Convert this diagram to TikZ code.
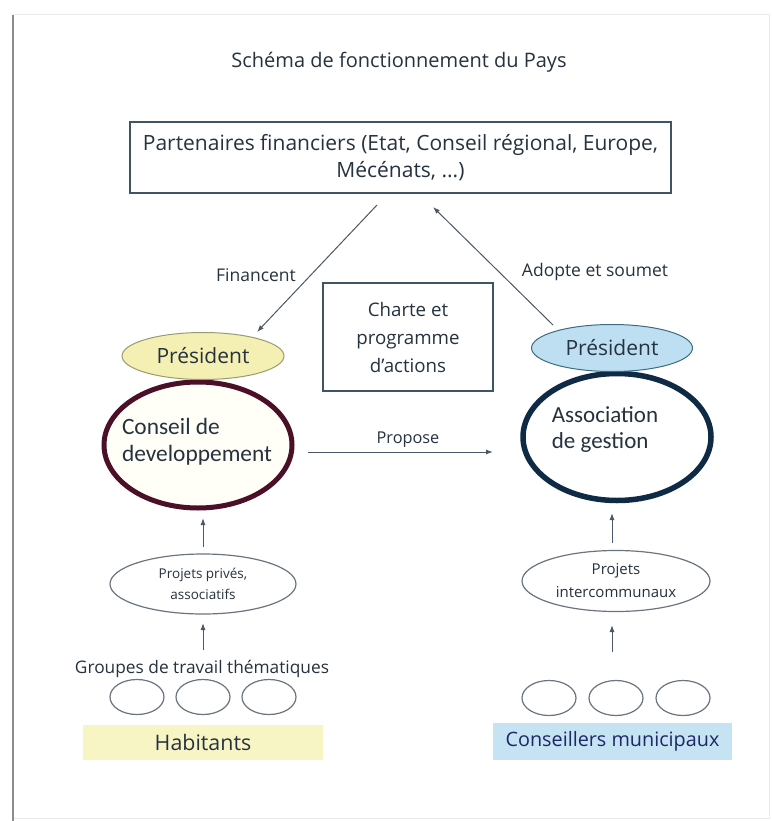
\documentclass[tikz,border=0pt]{standalone}
\usepackage{fontspec}
\setmainfont{Open Sans}
\newfontfamily\calib{Carlito}
\usetikzlibrary{shapes.geometric,arrows.meta}
\definecolor{ink}{HTML}{26323F}
\definecolor{boxline}{HTML}{3F5566}
\definecolor{arrowcol}{HTML}{4A5868}
\definecolor{smallline}{HTML}{6A7580}
\definecolor{presLfill}{HTML}{F4F0B4}
\definecolor{presLline}{HTML}{9A9A70}
\definecolor{presRfill}{HTML}{BEDFF1}
\definecolor{presRline}{HTML}{3A6C80}
\definecolor{bigL}{HTML}{4B0F28}
\definecolor{bigR}{HTML}{0F2A44}
\definecolor{habfill}{HTML}{F8F5C4}
\definecolor{consfill}{HTML}{C5E3F3}
\tikzset{
  txt/.style={inner sep=0pt, text=ink},
  framebox/.style={draw=boxline, line width=1.3pt, inner sep=0pt, text=ink},
  ovalnode/.style={ellipse, inner sep=0pt},
  conn/.style={draw=arrowcol, line width=1pt, -{Latex[length=7pt,width=5pt]}},
  smallov/.style={ellipse, draw=smallline, line width=1.2pt, minimum width=54pt, minimum height=35pt, inner sep=0pt},
  bandbox/.style={inner sep=0pt, text=ink}
}
\begin{document}
\begin{tikzpicture}[x=1pt,y=-1pt]
\useasboundingbox (0,0) rectangle (771,821);
\fill[white] (0,0) rectangle (771,821);
% page frame
\draw[draw=black!8, line width=1pt] (13,15) rectangle (769,818);
\draw[draw=black!45, line width=2pt] (13,15) -- (13,821);

% title
\node[txt, font=\fontsize{20}{24}\selectfont] (title) at (399,62) {Schéma de fonctionnement du Pays};

% partners box
\node[framebox, minimum width=541pt, minimum height=71pt, align=center,
      font=\fontsize{21}{27}\selectfont] (partners) at (400.5,157.5)
  {Partenaires financiers (Etat, Conseil régional, Europe,\\Mécénats, ...)};

% charte box
\node[framebox, minimum width=170pt, minimum height=108pt, align=center,
      font=\fontsize{18.7}{28}\selectfont] (charte) at (408,337)
  {Charte et\\programme\\d'actions};

% left side
\node[ovalnode, draw=bigL, line width=5pt, fill=yellow!3, minimum width=188pt, minimum height=126pt] (cdev) at (198,445) {};
\node[txt, align=left, font=\calib\fontsize{23.4}{27}\selectfont] (cdevtxt) at (197,442) {Conseil de\\developpement};
\node[ovalnode, draw=presLline, line width=1pt, fill=presLfill, minimum width=162pt, minimum height=47pt, font=\fontsize{21}{24}\selectfont, text=ink] (presL) at (203,356) {Président};

% right side
\node[ovalnode, draw=bigR, line width=5.5pt, fill=white, minimum width=188pt, minimum height=127pt] (assoc) at (617,437) {};
\node[txt, align=left, font=\calib\fontsize{23}{26}\selectfont] (assoctxt) at (605,430) {Association\\de gestion};
\node[ovalnode, draw=presRline, line width=1pt, fill=presRfill, minimum width=161pt, minimum height=47pt, font=\fontsize{21}{24}\selectfont, text=ink] (presR) at (612,348) {Président};

% projets
\node[ovalnode, draw=smallline, line width=1.2pt, minimum width=186pt, minimum height=60pt, align=center, font=\fontsize{13.5}{21}\selectfont, text=ink] (projL) at (203,584) {Projets privés,\\associatifs};
\node[ovalnode, draw=smallline, line width=1.2pt, minimum width=188pt, minimum height=61pt, align=center, font=\fontsize{15}{23}\selectfont, text=ink] (projR) at (616,581) {Projets\\intercommunaux};

% groups label
\node[txt, font=\fontsize{17.3}{20}\selectfont] (groupes) at (202,669) {Groupes de travail thématiques};

% small ellipses
\node[smallov] (gL1) at (137,697) {};
\node[smallov] (gL2) at (203,697) {};
\node[smallov] (gL3) at (269,697) {};
\node[smallov] (gR1) at (549,698) {};
\node[smallov] (gR2) at (616,698) {};
\node[smallov] (gR3) at (683,698) {};

% bands
\node[bandbox, fill=habfill, minimum width=240pt, minimum height=35pt, font=\fontsize{21.4}{24}\selectfont] (hab) at (203,742.5) {Habitants};
\node[bandbox, fill=consfill, minimum width=239pt, minimum height=37pt, font=\fontsize{19.8}{22}\selectfont, text=ink!80!blue] (cons) at (612.5,741.5) {Conseillers municipaux};

% connector end points
\coordinate (finA) at (377,205);
\coordinate (finB) at (257,332);
\coordinate (adoA) at (553,325);
\coordinate (adoB) at (433,207);
\coordinate (propA) at (308,452);
\coordinate (propB) at (493,452);
\coordinate (upLa) at (203,547);
\coordinate (upLb) at (203,518);
\coordinate (upRa) at (612,543);
\coordinate (upRb) at (612,513);
\coordinate (upLc) at (203,650);
\coordinate (upLd) at (203,623);
\coordinate (upRc) at (612,652);
\coordinate (upRd) at (612,625);

\draw[conn] (finA) -- (finB);
\draw[conn] (adoA) -- (adoB);
\draw[conn] (propA) -- (propB);
\draw[conn] (upLa) -- (upLb);
\draw[conn] (upRa) -- (upRb);
\draw[conn] (upLc) -- (upLd);
\draw[conn] (upRc) -- (upRd);

% connector labels
\node[txt, font=\fontsize{17.5}{20}\selectfont] (lfin) at (256,275) {Financent};
\node[txt, font=\fontsize{17.5}{20}\selectfont] (lado) at (595,272) {Adopte et soumet};
\node[txt, font=\fontsize{16.3}{19}\selectfont] (lprop) at (408,440) {Propose};
\end{tikzpicture}
\end{document}
